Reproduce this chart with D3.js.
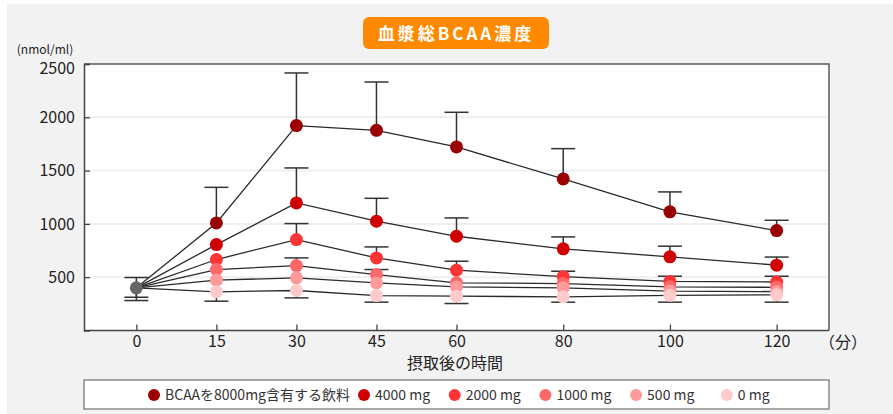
<!DOCTYPE html>
<html>
<head>
<meta charset="utf-8">
<script src="https://cdn.jsdelivr.net/npm/d3@7"></script>
<style>
  html, body { margin: 0; padding: 0; background: #ffffff; }
  svg { display: block; }
  text { font-family: "Noto Sans CJK JP", "Noto Sans", sans-serif; }
</style>
</head>
<body>
<svg id="chart" width="893" height="414"></svg>
<script>
// Sampling times (minutes after intake)
const times = [0, 15, 30, 45, 60, 80, 100, 120];
const xTickLabels = ["0", "15", "30", "45", "60", "80", "100", "120"];
const yTicks = [500, 1000, 1500, 2000, 2500];

// Plasma total BCAA (nmol/ml), mean per dose group
const bcaa8000 = [400, 1009, 1922, 1878, 1722, 1422, 1113, 937];
const bcaa4000 = [400, 806, 1197, 1025, 884, 766, 691, 613];
const bcaa2000 = [400, 666, 853, 681, 566, 505, 460, 455];
const bcaa1000 = [400, 572, 609, 525, 447, 440, 410, 405];
const bcaa500  = [400, 472, 494, 447, 409, 400, 370, 365];
const bcaa0    = [400, 363, 375, 328, 322, 316, 330, 335];

// Standard deviations shown as error bars (null = bar not drawn)
const sdUp8000 = [null, 334, 494, 453, 325, 284, 187, 97];
const sdUp4000 = [null, null, 328, 215, 172, 112, 100, 76];
const sdUp2000 = [null, null, 150, 103, 84, 51, 49, 54];
const sdUp1000 = [null, null, 72, 47, null, null, null, null];
const sdDown0  = [null, 88, 69, 62, 69, 50, 64, 69];

// Pre-intake point (shared by all groups)
const baselineValue = 400;
const baselineSdUp = 97;
const baselineSdDown = [88, 119];

const groupLabels = ["BCAAを8000mg含有する飲料", "4000 mg", "2000 mg", "1000 mg", "500 mg", "0 mg"];
const groupColors = ["#9a0000", "#d00000", "#ff3535", "#ff6868", "#ff9a9a", "#ffcaca"];
const groupValues = [bcaa8000, bcaa4000, bcaa2000, bcaa1000, bcaa500, bcaa0];
const groupSdUp = [sdUp8000, sdUp4000, sdUp2000, sdUp1000, null, null];
const groupSdDown = [null, null, null, null, null, sdDown0];

const svg = d3.select("#chart");
const W = 893, H = 414;

// page background
svg.append("rect").attr("x", 7).attr("y", 4).attr("width", W - 7).attr("height", H - 4)
  .attr("fill", "#f2f2f2");

const plot = { left: 84, right: 829, top: 64, bottom: 330.5 };

const x = d3.scaleLinear().domain([-10, 130]).range([83, 830]);
const y = d3.scaleLinear().domain([0, 2500]).range([330.5, 64]);

// plot area
svg.append("rect")
  .attr("x", plot.left).attr("y", plot.top)
  .attr("width", plot.right - plot.left).attr("height", plot.bottom - plot.top)
  .attr("fill", "#ffffff");

// horizontal grid
svg.append("g").selectAll("line").data(yTicks.filter(d => d < 2500)).join("line")
  .attr("x1", plot.left).attr("x2", plot.right)
  .attr("y1", d => y(d)).attr("y2", d => y(d))
  .attr("stroke", "#efefef").attr("stroke-width", 2);

// frame
svg.append("path")
  .attr("d", `M${plot.left},${plot.top}H${plot.right}V${plot.bottom}`)
  .attr("fill", "none").attr("stroke", "#5a5a5a").attr("stroke-width", 1.5);

// y axis
const yAxis = d3.axisLeft(y).tickValues(yTicks).tickSize(-6).tickPadding(9)
  .tickFormat(d3.format("d"));
const gy = svg.append("g").attr("transform", `translate(${plot.left},0)`).call(yAxis);
gy.select(".domain").attr("stroke", "#444").attr("stroke-width", 1.5);
gy.selectAll(".tick line").attr("stroke", "#444").attr("stroke-width", 1.3);
gy.selectAll(".tick text").attr("font-size", 16).attr("fill", "#222")
  .attr("font-family", "'Noto Sans CJK JP', sans-serif")
  .attr("dy", d => d === 2500 ? "0.62em" : "0.32em");

// x axis
const xAxis = d3.axisBottom(x).tickValues(times).tickSize(-6).tickPadding(5)
  .tickFormat((d, i) => xTickLabels[i]);
const gx = svg.append("g").attr("transform", `translate(0,${plot.bottom})`).call(xAxis);
gx.select(".domain").attr("d", `M${plot.left},0H${plot.right}`)
  .attr("stroke", "#444").attr("stroke-width", 1.5);
gx.selectAll(".tick line").attr("stroke", "#444").attr("stroke-width", 1.3);
gx.selectAll(".tick text").attr("font-size", 16).attr("fill", "#222")
  .attr("font-family", "'Noto Sans CJK JP', sans-serif");

// axis captions
svg.append("text").attr("x", 45).attr("y", 54).attr("text-anchor", "middle")
  .attr("font-size", 12).attr("fill", "#222").text("(nmol/ml)");
svg.append("text").attr("x", 843).attr("y", 348).attr("text-anchor", "middle")
  .attr("font-size", 16).attr("fill", "#222").text("（分）");
svg.append("text").attr("x", 455).attr("y", 369).attr("text-anchor", "middle")
  .attr("font-size", 16).attr("fill", "#222").text("摂取後の時間");

// title badge
const titleG = svg.append("g");
titleG.append("rect").attr("x", 363).attr("y", 17).attr("width", 186).attr("height", 32)
  .attr("rx", 6).attr("fill", "#ff8a00");
titleG.append("text").attr("x", 456).attr("y", 39.5).attr("text-anchor", "middle")
  .attr("font-size", 17).attr("font-weight", "bold").attr("fill", "#ffffff")
  .attr("letter-spacing", 3).text("血漿総BCAA濃度");

// error bars
const capHalf = 12;
const errG = svg.append("g").attr("stroke", "#333").attr("stroke-width", 1.5).attr("fill", "none");
function errorBar(t, from, to) {
  errG.append("line").attr("x1", x(t)).attr("x2", x(t)).attr("y1", y(from)).attr("y2", y(to));
  errG.append("line").attr("x1", x(t) - capHalf).attr("x2", x(t) + capHalf)
    .attr("y1", y(to)).attr("y2", y(to));
}
groupValues.forEach((vals, g) => {
  times.forEach((t, i) => {
    if (i === 0) return;
    const up = groupSdUp[g] && groupSdUp[g][i];
    const dn = groupSdDown[g] && groupSdDown[g][i];
    if (up != null) errorBar(t, vals[i], vals[i] + up);
    if (dn != null) errorBar(t, vals[i], vals[i] - dn);
  });
});
errorBar(0, baselineValue, baselineValue + baselineSdUp);
baselineSdDown.forEach(sd => errorBar(0, baselineValue, baselineValue - sd));

// group lines
const line = d3.line().x((d, i) => x(times[i])).y(d => y(d));
const lineG = svg.append("g");
groupValues.forEach(vals => {
  lineG.append("path").attr("d", line(vals)).attr("fill", "none")
    .attr("stroke", "#2a2a2a").attr("stroke-width", 1.3);
});

// group markers (after intake)
const dotG = svg.append("g");
groupValues.forEach((vals, g) => {
  dotG.append("g").selectAll("circle").data(vals.slice(1)).join("circle")
    .attr("cx", (d, i) => x(times[i + 1])).attr("cy", d => y(d))
    .attr("r", 6.5).attr("fill", groupColors[g]);
});
// pre-intake marker
svg.append("circle").attr("cx", x(0)).attr("cy", y(baselineValue)).attr("r", 6.5)
  .attr("fill", "#666666");

// legend
const legend = svg.append("g");
legend.append("rect").attr("x", 84).attr("y", 380).attr("width", 745).attr("height", 29)
  .attr("fill", "#ffffff").attr("stroke", "#8a8a8a").attr("stroke-width", 1.5);
const legendStarts = [154];
for (let i = 1; i < groupLabels.length; i++) legendStarts.push(i === 1 ? 364 : legendStarts[i - 1] + 90.7);
groupLabels.forEach((lab, i) => {
  const cx = legendStarts[i];
  legend.append("circle").attr("cx", cx).attr("cy", 395).attr("r", 6).attr("fill", groupColors[i]);
  legend.append("text").attr("x", cx + 11).attr("y", 400).attr("font-size", 14)
    .attr("fill", "#333").text(lab);
});
</script>
</body>
</html>
